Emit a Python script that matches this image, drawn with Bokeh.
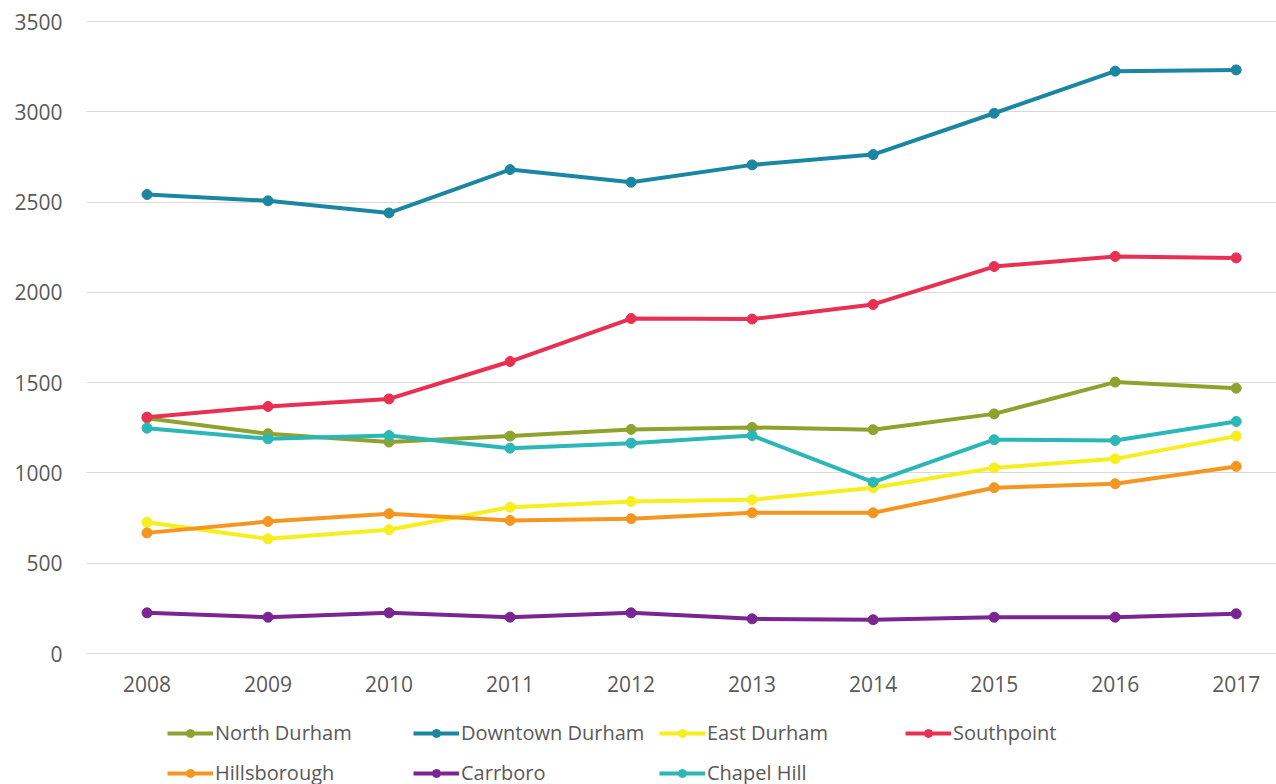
from bokeh.plotting import figure
from bokeh.models import Range1d, FixedTicker, Legend, LegendItem, ColumnDataSource
from bokeh.layouts import column
from bokeh.embed import file_html
from bokeh.resources import INLINE

years = [2008, 2009, 2010, 2011, 2012, 2013, 2014, 2015, 2016, 2017]
year_labels = ["2008", "2009", "2010", "2011", "2012", "2013", "2014", "2015", "2016", "2017"]

north_durham = [1303, 1217, 1171, 1204, 1241, 1252, 1239, 1327, 1503, 1469]
downtown_durham = [2542, 2507, 2440, 2680, 2610, 2706, 2763, 2992, 3225, 3232]
east_durham = [727, 635, 685, 810, 842, 851, 918, 1028, 1078, 1204]
southpoint = [1309, 1368, 1410, 1617, 1855, 1852, 1933, 2143, 2199, 2191]
hillsborough = [668, 731, 774, 737, 746, 779, 779, 918, 940, 1036]
carrboro = [225, 201, 225, 201, 225, 192, 187, 201, 201, 220]
chapel_hill = [1248, 1189, 1207, 1137, 1165, 1207, 949, 1184, 1180, 1285]

series_names = ["North Durham", "Downtown Durham", "East Durham", "Southpoint",
                "Hillsborough", "Carrboro", "Chapel Hill"]
series_values = [north_durham, downtown_durham, east_durham, southpoint,
                 hillsborough, carrboro, chapel_hill]
series_colors = ["#8FA22E", "#1B86A1", "#F7EE1E", "#E93052",
                 "#F4961F", "#7A2592", "#2BB6B7"]

y_ticks = [0, 500, 1000, 1500, 2000, 2500, 3000, 3500]

TEXT = "#595959"
FONT = "Open Sans"

p = figure(width=1276, height=710, output_backend="svg", toolbar_location=None,
           x_range=Range1d(2007.5, 2017.333), y_range=Range1d(0, 3561),
           min_border_left=86, min_border_right=0, min_border_top=10,
           min_border_bottom=57)
p.outline_line_color = None
p.background_fill_color = "white"
p.border_fill_color = "white"

p.xgrid.grid_line_color = None
p.ygrid.grid_line_color = "#d9d9d9"
p.ygrid.grid_line_width = 1
p.yaxis.ticker = FixedTicker(ticks=y_ticks)
p.xaxis.ticker = FixedTicker(ticks=years)
p.xaxis.major_label_overrides = {y: l for y, l in zip(years, year_labels)}

for ax in (p.xaxis[0], p.yaxis[0]):
    ax.major_tick_line_color = None
    ax.minor_tick_line_color = None
    ax.major_tick_out = 0
    ax.major_tick_in = 0
    ax.major_label_text_font = FONT
    ax.major_label_text_font_size = "21px"
    ax.major_label_text_color = TEXT
p.yaxis.axis_line_color = None
p.yaxis.major_label_standoff = 24
p.xaxis.axis_line_color = "#d9d9d9"
p.xaxis.major_label_standoff = 22

for name, vals, col in zip(series_names, series_values, series_colors):
    src = ColumnDataSource(dict(x=years, y=vals))
    p.line("x", "y", source=src, line_color=col, line_width=4)
    p.scatter("x", "y", source=src, marker="circle", size=10,
              fill_color=col, line_color=col)

# legend strip below the chart (its series lie outside this strip's ranges)
lg = figure(width=1276, height=74, output_backend="svg", toolbar_location=None,
            x_range=Range1d(0, 1), y_range=Range1d(0, 1),
            min_border_left=86, min_border_right=0, min_border_top=0,
            min_border_bottom=0)
lg.outline_line_color = None
lg.axis.visible = False
lg.grid.visible = False
lg.border_fill_color = "white"
items = []
for name, vals, col in zip(series_names, series_values, series_colors):
    src = ColumnDataSource(dict(x=years, y=vals))
    lr = lg.line("x", "y", source=src, line_color=col, line_width=4)
    sr = lg.scatter("x", "y", source=src, marker="circle", size=10,
                    fill_color=col, line_color=col)
    items.append(LegendItem(label=name, renderers=[lr, sr]))

legend = Legend(items=items, orientation="horizontal", ncols=4,
                location=(81, -2), padding=0, margin=0, spacing=13,
                glyph_width=46, glyph_height=20, label_height=20,
                label_width=185, label_standoff=2,
                label_text_font=FONT, label_text_font_size="20px",
                label_text_color=TEXT, border_line_color=None,
                background_fill_alpha=0)
lg.add_layout(legend, "center")

layout = column(p, lg, spacing=0)
open("out.html", "w").write(file_html(layout, INLINE))
